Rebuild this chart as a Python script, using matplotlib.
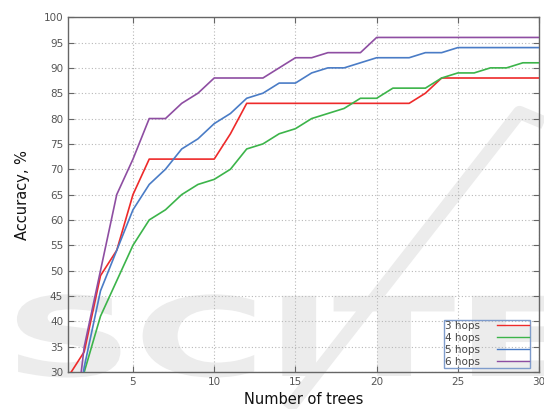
import numpy as np
import matplotlib
matplotlib.use("Agg")
import matplotlib.pyplot as plt
from matplotlib.lines import Line2D
from matplotlib.textpath import TextPath
from matplotlib.patches import PathPatch
from matplotlib.font_manager import FontProperties
from matplotlib.transforms import Affine2D

# accuracy vs forest size, one curve per hop count
trees = list(range(1, 31))
hops_3 = [29, 34, 49, 54, 65, 72, 72, 72, 72, 72, 77, 83, 83, 83, 83,
          83, 83, 83, 83, 83, 83, 83, 85, 88, 88, 88, 88, 88, 88, 88]
hops_4 = [20, 30, 41, 48, 55, 60, 62, 65, 67, 68, 70, 74, 75, 77, 78,
          80, 81, 82, 84, 84, 86, 86, 86, 88, 89, 89, 90, 90, 91, 91]
hops_5 = [10, 31, 46, 54, 62, 67, 70, 74, 76, 79, 81, 84, 85, 87, 87,
          89, 90, 90, 91, 92, 92, 92, 93, 93, 94, 94, 94, 94, 94, 94]
hops_6 = [8, 35, 50, 65, 72, 80, 80, 83, 85, 88, 88, 88, 88, 90, 92,
          92, 93, 93, 93, 96, 96, 96, 96, 96, 96, 96, 96, 96, 96, 96]
labels = ["3 hops", "4 hops", "5 hops", "6 hops"]
colors = ["#ee2a2a", "#3cb44a", "#4a7cc6", "#8e4ea2"]

x_ticks = [5, 10, 15, 20, 25, 30]
y_ticks = list(range(30, 101, 5))

W, H = 544, 409
fig = plt.figure(figsize=(W / 100, H / 100), dpi=100)
fig.patch.set_facecolor("white")
ax = fig.add_axes([0.125, 0.0905, 0.866, 0.8675])
ax.patch.set_alpha(0)
ax.set_zorder(2)

# faint publisher mark behind the plot (wide bold letters + slash)
wm = "#ececec"
tp = TextPath((0, 0), "SCITE", size=1,
              prop=FontProperties(family="DejaVu Sans", weight="bold"))
mark = PathPatch(tp, facecolor=wm, edgecolor="none", zorder=0)
mark.set_transform(Affine2D().scale(180, 110).translate(4, H - 376))
fig.add_artist(mark)
fig.add_artist(Line2D([0.53, 0.955, 1.0], [0.0, 0.725, 0.70],
                      color=wm, lw=9.5, zorder=0.5, solid_capstyle="butt"))

for ys, lab, c in zip([hops_3, hops_4, hops_5, hops_6], labels, colors):
    ax.plot(trees, ys, color=c, lw=1.2, label=lab, zorder=3)

ax.set_xlim(1, 30)
ax.set_ylim(30, 100)
ax.set_xticks(x_ticks)
ax.set_yticks(y_ticks)
ax.grid(True, color="#b8b8b8", linestyle=(0, (1, 2)), linewidth=0.8)
for s in ax.spines.values():
    s.set_color("#666666")
    s.set_linewidth(1.0)
ax.tick_params(direction="in", length=4, width=0.8, color="#666666",
               top=True, right=True, labelsize=7.5, labelcolor="#555555")

ax.set_xlabel("Number of trees", fontsize=10.5, color="#111111", labelpad=4)
ax.set_ylabel("Accuracy, %", fontsize=10.5, color="#111111", labelpad=10)

leg = ax.legend(loc="lower right", bbox_to_anchor=(0.981, 0.011),
                markerfirst=False, fontsize=7.5, handlelength=3.1,
                handletextpad=1.6, borderpad=0.1, labelspacing=0.2,
                borderaxespad=0, fancybox=False, framealpha=1)
leg.get_frame().set_facecolor("none")
leg.get_frame().set_edgecolor("#7f9ccc")
leg.get_frame().set_linewidth(1.0)
for t in leg.get_texts():
    t.set_color("#444444")
for h in leg.get_lines():
    h.set_linewidth(1.0)

fig.savefig("out.png", dpi=100)
